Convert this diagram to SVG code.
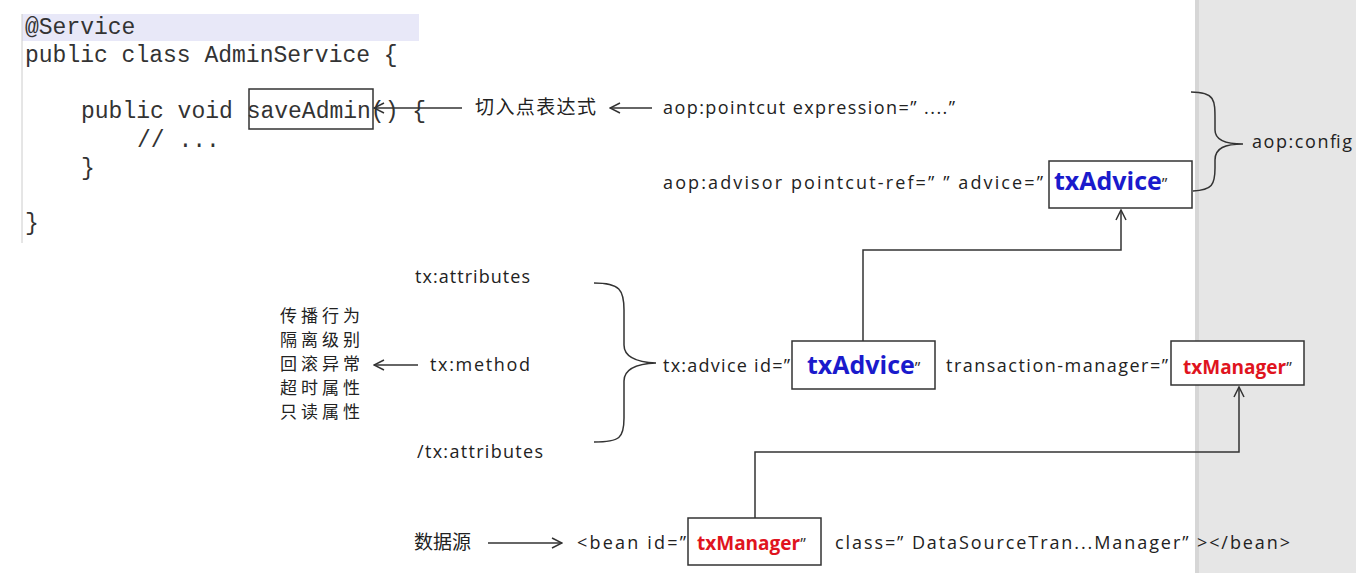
<svg xmlns="http://www.w3.org/2000/svg" width="1356" height="573" viewBox="0 0 1356 573">
<defs>
<style>
.c{font-family:"Liberation Mono",monospace;font-size:23px;fill:#333}
.t{font-family:"Open Sans","Noto Sans CJK SC",sans-serif;font-size:18px;fill:#222}
.z{font-family:"Noto Sans CJK SC",sans-serif;font-size:19px;fill:#222}
.s{font-family:"Noto Sans CJK SC",sans-serif;font-size:17px;fill:#222}
.b{fill:#fff;stroke:#333;stroke-width:1.5}
.l{fill:none;stroke:#333;stroke-width:1.5}
</style>
<marker id="a" viewBox="0 0 12 12" refX="11" refY="6" markerWidth="12" markerHeight="12" markerUnits="userSpaceOnUse" orient="auto"><path d="M1,1 L11,6 L1,11" fill="none" stroke="#333" stroke-width="1.5"/></marker>
</defs>
<rect width="1356" height="573" fill="#fff"/>
<rect x="1197" y="0" width="159" height="573" fill="#e6e6e6"/>
<rect x="1195" y="0" width="4" height="573" fill="#d6d6d6"/>
<g id="code">
<rect x="22" y="14" width="397" height="27" fill="#e8e8f8"/>
<line x1="22" y1="14" x2="22" y2="243" stroke="#ccc"/>
<text class="c" x="25" y="34">@Service</text>
<text class="c" x="25" y="62">public class AdminService {</text>
<text class="c" x="81" y="118">public void saveAdmin() {</text>
<text class="c" x="137" y="147">// ...</text>
<text class="c" x="81" y="175">}</text>
<text class="c" x="25" y="230">}</text>
<rect x="249" y="89" width="124" height="40" fill="none" stroke="#333" stroke-width="1.5"/>
</g>
<g id="labels">
<text class="z" x="475" y="114" textLength="121">切入点表达式</text>
<text class="t" x="663" y="114" textLength="292">aop:pointcut expression=” ....”</text>
<text class="t" x="663" y="189" textLength="380">aop:advisor pointcut-ref=” ”  advice=”</text>
<text class="t" x="1252" y="148" textLength="100">aop:config</text>
<text class="t" x="415" y="283" textLength="115">tx:attributes</text>
<text class="t" x="430" y="371" textLength="100">tx:method</text>
<text class="t" x="417" y="458" textLength="126">/tx:attributes</text>
<text class="s" x="280" y="322" textLength="80">传播行为</text>
<text class="s" x="280" y="346" textLength="80">隔离级别</text>
<text class="s" x="280" y="370" textLength="80">回滚异常</text>
<text class="s" x="280" y="394" textLength="80">超时属性</text>
<text class="s" x="280" y="418" textLength="80">只读属性</text>
<text class="t" x="663" y="372" textLength="127">tx:advice id=”</text>
<text class="t" x="946" y="372" textLength="222">transaction-manager=”</text>
<text class="z" x="414" y="549">数据源</text>
<text class="t" x="577" y="549" textLength="109">&lt;bean id=”</text>
<text class="t" x="835" y="549" textLength="455">class=” DataSourceTran...Manager”  &gt;&lt;/bean&gt;</text>
</g>
<g id="advisorAdvice"><rect class="b" x="1049" y="161" width="143" height="47"/><text x="1054" y="190" font-family="Open Sans,sans-serif" font-size="25" font-weight="bold" fill="#1a1acc">txAdvice<tspan fill="#333" font-size="16" font-weight="normal">”</tspan></text></g>
<g id="txAdvice"><rect class="b" x="792" y="341" width="143" height="48"/><text x="807" y="374" font-family="Open Sans,sans-serif" font-size="25" font-weight="bold" fill="#1a1acc">txAdvice<tspan fill="#333" font-size="16" font-weight="normal">”</tspan></text></g>
<g id="txManagerRef"><rect class="b" x="1171" y="341" width="133" height="44"/><text x="1183" y="374" font-family="Open Sans,sans-serif" font-size="19" font-weight="bold" fill="#e0141e">txManager<tspan fill="#333" font-size="16" font-weight="normal">”</tspan></text></g>
<g id="txManagerBean"><rect class="b" x="688" y="518" width="133" height="47"/><text x="697" y="550" font-family="Open Sans,sans-serif" font-size="19" font-weight="bold" fill="#e0141e">txManager<tspan fill="#333" font-size="16" font-weight="normal">”</tspan></text></g>
<g id="connectors">
<line class="l" x1="462" y1="108" x2="374" y2="108" marker-end="url(#a)"/>
<line class="l" x1="652" y1="108" x2="610" y2="108" marker-end="url(#a)"/>
<line class="l" x1="418" y1="365" x2="374" y2="365" marker-end="url(#a)"/>
<line class="l" x1="488" y1="543" x2="562" y2="543" marker-end="url(#a)"/>
<polyline class="l" points="863,341 863,250 1121,250 1121,210" marker-end="url(#a)"/>
<polyline class="l" points="755,518 755,452 1239,452 1239,387" marker-end="url(#a)"/>
<path class="l" d="M1191,92 C1215,92 1215,100 1215,120 L1215,130 C1215,140 1225,144 1243,144 C1225,144 1215,148 1215,160 L1215,168 C1215,185 1212,190 1193,191"/>
<path class="l" d="M594,283 C620,283 624,290 624,310 L624,345 C624,356 634,362 656,363 C634,364 624,370 624,381 L624,418 C624,438 620,442 594,442"/>
</g>
</svg>
